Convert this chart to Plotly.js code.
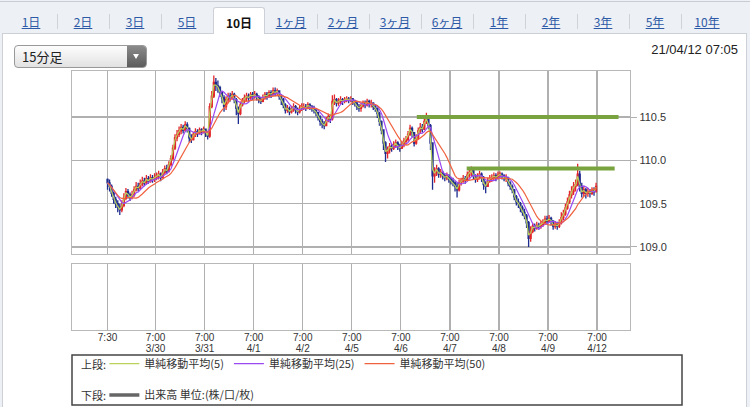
<!DOCTYPE html>
<html>
<head>
<meta charset="utf-8">
<script src="https://cdn.plot.ly/plotly-3.0.1.min.js"></script>
<style>
  html, body { margin:0; padding:0; }
  body { width:750px; height:407px; overflow:hidden; position:relative; background:#edf0f5; font-family:"Noto Sans CJK JP","Liberation Sans",sans-serif; }
  #topline { position:absolute; left:0; top:1px; width:750px; height:1px; background:#c9cdd3; }
  #panel { position:absolute; left:2px; top:33px; width:745px; height:390px; box-sizing:border-box; background:#fff; border:1px solid #cdd1d7; }
  .tab { position:absolute; top:7px; height:26px; width:52px; text-align:center; font-size:12px; line-height:30px; color:#2d5aa6; }
  .tab span { text-decoration:underline; }
  .tab.sel { background:#fff; border:1px solid #cdd1d7; border-bottom:none; box-sizing:border-box; height:27px; line-height:29px; border-radius:3px 3px 0 0; color:#111; font-weight:bold; }
  .tab.sel span { text-decoration:none; }
  .sep { position:absolute; top:14px; width:1px; height:15px; background:#cfd3d8; }
  #dd { position:absolute; left:14px; top:45px; width:133px; height:23px; box-sizing:border-box; border:1px solid #999; border-radius:4px; background:linear-gradient(#fdfdfd,#e2e2e2); overflow:hidden; }
  #ddtext { position:absolute; left:7px; top:0; line-height:21px; font-size:13px; color:#222; }
  #ddbtn { position:absolute; right:0; top:0; width:19px; height:21px; background:linear-gradient(#8a8a8a,#5c5c5c); }
  #ddbtn:after { content:""; position:absolute; left:6px; top:8px; border-left:3.5px solid transparent; border-right:3.5px solid transparent; border-top:5px solid #fff; }
  #stamp { position:absolute; right:12px; top:42px; font-family:"Liberation Sans",Arial,sans-serif; font-size:13px; line-height:16px; color:#222; }
  #chart { position:absolute; left:0; top:0; width:750px; height:407px; }
</style>
</head>
<body>
<div id="topline"></div>
<div id="panel"></div>
<div id="tabs"></div>
<div id="dd"><div id="ddtext"></div><div id="ddbtn"></div></div>
<div id="stamp"></div>
<div id="chart"></div>
<script>
// ---- page UI text ----
const tabLabels = ['1日','2日','3日','5日','10日','1ヶ月','2ヶ月','3ヶ月','6ヶ月','1年','2年','3年','5年','10年'];
const selectedTab = 4;
const barTypeLabel = '15分足';
const timestampLabel = '21/04/12 07:05';

// ---- chart data (USD/JPY, hourly samples) ----
// hours counted in trading time from 3/29 7:00 (weekend skipped)
const firstBarHour = 0.5;
const firstOpen = 109.78;
const closes = [
 109.74,109.70,109.62,109.55,109.50,109.46,109.43,109.48,109.56,109.64,109.60,109.57,109.60,109.66,109.70,109.68,109.73,109.76,109.74,109.79,109.76,109.80,109.78,109.80,
 109.82,109.84,109.80,109.86,109.90,109.88,109.95,110.02,110.14,110.26,110.30,110.34,110.38,110.35,110.41,110.37,110.26,110.24,110.30,110.33,110.31,110.35,110.33,110.36,
 110.32,110.28,110.62,110.74,110.90,110.86,110.84,110.78,110.72,110.62,110.70,110.74,110.72,110.76,110.70,110.60,110.54,110.64,110.68,110.72,110.74,110.72,110.76,110.74,
 110.76,110.73,110.70,110.68,110.72,110.76,110.74,110.78,110.76,110.80,110.78,110.80,110.74,110.70,110.64,110.58,110.60,110.56,110.59,110.62,110.58,110.56,110.60,110.62,
 110.62,110.60,110.64,110.62,110.60,110.58,110.55,110.50,110.45,110.42,110.40,110.46,110.50,110.48,110.68,110.70,110.66,110.68,110.70,110.68,110.70,110.71,110.70,110.71,
 110.68,110.66,110.62,110.60,110.63,110.66,110.64,110.68,110.65,110.66,110.62,110.60,110.54,110.45,110.35,110.20,110.08,110.12,110.16,110.14,110.18,110.20,110.16,110.14,
 110.18,110.22,110.24,110.30,110.37,110.32,110.20,110.26,110.34,110.38,110.36,110.45,110.48,110.40,110.20,109.82,109.86,109.90,109.84,109.86,109.82,109.80,109.82,109.78,
 109.76,109.74,109.70,109.66,109.74,109.76,109.79,109.78,109.83,109.86,109.88,109.82,109.78,109.80,109.84,109.80,109.72,109.70,109.76,109.79,109.80,109.82,109.80,109.83,
 109.84,109.82,109.79,109.80,109.74,109.70,109.66,109.58,109.52,109.50,109.45,109.40,109.36,109.28,109.10,109.18,109.24,109.22,109.25,109.24,109.26,109.28,109.32,109.30,
 109.33,109.30,109.24,109.26,109.24,109.28,109.34,109.38,109.45,109.52,109.60,109.64,109.70,109.72,109.84,109.70,109.62,109.66,109.62,109.64,109.62,109.65,109.64,109.70
];
const highs = [
 109.79,109.78,109.72,109.64,109.58,109.54,109.50,109.54,109.62,109.68,109.67,109.63,109.65,109.70,109.75,109.74,109.78,109.81,109.80,109.83,109.82,109.84,109.83,109.85,
 109.86,109.88,109.86,109.90,109.94,109.95,109.99,110.06,110.18,110.30,110.35,110.39,110.42,110.41,110.45,110.44,110.38,110.30,110.33,110.37,110.36,110.38,110.37,110.39,
 110.36,110.34,110.66,110.80,110.98,110.95,110.92,110.86,110.80,110.75,110.74,110.78,110.78,110.80,110.78,110.72,110.62,110.68,110.72,110.76,110.78,110.77,110.79,110.79,
 110.80,110.78,110.75,110.73,110.76,110.79,110.79,110.81,110.81,110.84,110.84,110.83,110.81,110.76,110.72,110.66,110.64,110.62,110.63,110.66,110.64,110.61,110.64,110.66,
 110.66,110.65,110.67,110.66,110.64,110.63,110.60,110.56,110.52,110.48,110.45,110.50,110.54,110.53,110.75,110.76,110.72,110.72,110.74,110.72,110.73,110.74,110.73,110.74,
 110.72,110.70,110.68,110.65,110.66,110.69,110.69,110.71,110.70,110.70,110.67,110.65,110.61,110.56,110.46,110.36,110.22,110.16,110.20,110.19,110.22,110.24,110.22,110.19,
 110.22,110.26,110.28,110.34,110.41,110.39,110.32,110.30,110.38,110.43,110.42,110.50,110.55,110.50,110.42,110.20,109.92,109.95,109.92,109.90,109.88,109.85,109.86,109.84,
 109.81,109.80,109.76,109.74,109.78,109.80,109.83,109.82,109.87,109.90,109.93,109.90,109.84,109.85,109.88,109.86,109.82,109.76,109.80,109.83,109.84,109.86,109.85,109.87,
 109.87,109.86,109.84,109.84,109.81,109.76,109.72,109.67,109.60,109.56,109.52,109.48,109.44,109.38,109.30,109.24,109.28,109.27,109.29,109.28,109.30,109.32,109.36,109.36,
 109.37,109.35,109.31,109.30,109.29,109.32,109.40,109.43,109.50,109.57,109.65,109.70,109.75,109.78,109.96,109.88,109.74,109.70,109.68,109.68,109.67,109.69,109.69,109.74
];
const lows = [
 109.66,109.64,109.58,109.50,109.45,109.40,109.37,109.40,109.46,109.54,109.56,109.53,109.55,109.58,109.64,109.64,109.66,109.70,109.70,109.72,109.73,109.74,109.74,109.75,
 109.77,109.78,109.76,109.79,109.84,109.84,109.86,109.93,110.00,110.12,110.22,110.27,110.30,110.31,110.33,110.32,110.21,110.20,110.23,110.27,110.27,110.30,110.29,110.31,
 110.27,110.24,110.26,110.60,110.72,110.80,110.78,110.73,110.66,110.56,110.58,110.66,110.68,110.70,110.66,110.52,110.42,110.52,110.62,110.66,110.68,110.68,110.70,110.70,
 110.71,110.69,110.66,110.65,110.67,110.70,110.70,110.72,110.72,110.74,110.74,110.74,110.70,110.64,110.60,110.54,110.55,110.52,110.54,110.56,110.54,110.52,110.54,110.57,
 110.58,110.57,110.59,110.58,110.56,110.54,110.51,110.46,110.40,110.37,110.36,110.40,110.44,110.43,110.46,110.64,110.62,110.63,110.65,110.64,110.66,110.67,110.66,110.67,
 110.64,110.62,110.58,110.56,110.56,110.61,110.60,110.62,110.61,110.61,110.58,110.56,110.49,110.40,110.30,110.12,109.98,110.02,110.08,110.10,110.12,110.15,110.12,110.10,
 110.13,110.15,110.18,110.22,110.28,110.27,110.16,110.18,110.24,110.31,110.32,110.35,110.42,110.36,110.12,109.66,109.74,109.82,109.80,109.80,109.78,109.76,109.77,109.74,
 109.72,109.70,109.64,109.57,109.64,109.71,109.74,109.73,109.77,109.80,109.82,109.78,109.74,109.75,109.78,109.75,109.66,109.62,109.70,109.74,109.75,109.77,109.76,109.78,
 109.79,109.78,109.76,109.75,109.70,109.66,109.62,109.54,109.48,109.45,109.40,109.36,109.32,109.22,109.00,109.06,109.16,109.18,109.20,109.20,109.21,109.23,109.26,109.26,
 109.28,109.25,109.20,109.21,109.20,109.22,109.26,109.31,109.36,109.43,109.50,109.56,109.60,109.64,109.70,109.64,109.57,109.58,109.56,109.58,109.57,109.60,109.59,109.63
];
const volumes = [null]; // FX: no volume reported, lower panel stays empty

// moving averages (periods in 15-min bars)
const maPeriods = [5, 25, 50];
const maNames = ['単純移動平均(5)', '単純移動平均(25)', '単純移動平均(50)'];
const barMinutes = 15, sampleMinutes = 60;

// horizontal price lines (green)
const levelPrices = [110.50, 109.905];
const levelFrom = [151.8, 176.2];
const levelTo = [250.5, 248.6];

// axis ticks
const gridHours = [0.5, 24, 48, 72, 96, 120, 144, 168, 192, 216, 240];
const timeLabels = ['7:30','7:00','7:00','7:00','7:00','7:00','7:00','7:00','7:00','7:00','7:00'];
const dateLabels = ['','3/30','3/31','4/1','4/2','4/5','4/6','4/7','4/8','4/9','4/12'];
const priceTicks = [109.0, 109.5, 110.0, 110.5];
const priceTickLabels = ['109.0','109.5','110.0','110.5'];
const upperLabel = '上段:', lowerLabel = '下段:';
const volumeName = '出来高 単位:(株/口/枚)';

// ---- page UI ----
const tabsEl = document.getElementById('tabs');
tabLabels.forEach((t, i) => {
  const d = document.createElement('div');
  d.className = 'tab' + (i === selectedTab ? ' sel' : '');
  d.style.left = (5 + 52 * i) + 'px';
  d.innerHTML = '<span>' + t + '</span>';
  if (i > 0 && i !== selectedTab && i !== selectedTab + 1) {
    const s = document.createElement('div');
    s.className = 'sep';
    s.style.left = (5 + 52 * i) + 'px';
    tabsEl.appendChild(s);
  }
  tabsEl.appendChild(d);
});
document.getElementById('ddtext').textContent = barTypeLabel;
document.getElementById('stamp').textContent = timestampLabel;

// ---- chart ----
const barHours = closes.map((_, k) => firstBarHour + k);
const opens = closes.map((c, k) => k === 0 ? firstOpen : closes[k - 1]);

function sma(arr, span) {
  return arr.map((_, i) => {
    let s = 0, w = 0;
    for (let j = 0; j < Math.ceil(span); j++) {
      if (i - j < 0) break;
      const wt = Math.min(1, span - j);
      s += arr[i - j] * wt; w += wt;
    }
    return s / w;
  });
}

const maColors = ['#b9d25c', '#9a48f2', '#f0623e'];
const traces = [];
levelPrices.forEach((p, i) => traces.push({
  type: 'scatter', mode: 'lines', x: [levelFrom[i], levelTo[i]], y: [p, p],
  line: { color: '#78a33f', width: 4 }, showlegend: false, hoverinfo: 'skip', xaxis: 'x', yaxis: 'y'
}));
traces.push({
  type: 'candlestick', x: barHours, open: opens, high: highs, low: lows, close: closes,
  increasing: { line: { color: '#e3262b', width: 1.3 }, fillcolor: '#e3262b' },
  decreasing: { line: { color: '#1e2c8e', width: 1.3 }, fillcolor: '#1e2c8e' },
  whiskerwidth: 0, showlegend: false, xaxis: 'x', yaxis: 'y'
});
maPeriods.forEach((n, i) => traces.push({
  type: 'scatter', mode: 'lines', x: barHours, y: sma(closes, n * barMinutes / sampleMinutes),
  name: maNames[i], line: { color: maColors[i], width: 1.2 }, legend: 'legend', xaxis: 'x', yaxis: 'y'
}));
traces.push({
  type: 'scatter', mode: 'lines', x: [barHours[0]], y: volumes, name: volumeName,
  line: { color: '#666', width: 3.5 }, legend: 'legend2', xaxis: 'x2', yaxis: 'y2'
});
traces.push({ type: 'scatter', mode: 'lines', x: [barHours[0]], y: volumes, showlegend: false, xaxis: 'x3', yaxis: 'y2' });

const xRange = [-16.88, 256.1];
const gridC = '#b0b0b0', frameC = '#b8b8b8';
const legendX = 0.058;
const layout = {
  width: 750, height: 407,
  margin: { l: 72, r: 120, t: 71, b: 77, autoexpand: false },
  paper_bgcolor: 'rgba(0,0,0,0)', plot_bgcolor: '#ffffff',
  font: { family: 'Liberation Sans, Arial, sans-serif', size: 11, color: '#333' },
  showlegend: true,
  xaxis: { domain: [0, 1], anchor: 'y', range: xRange, tickvals: gridHours, showticklabels: false,
    showgrid: true, gridcolor: gridC, gridwidth: 1.2, zeroline: false, showline: true, mirror: true,
    linecolor: frameC, linewidth: 1.2, ticks: '', rangeslider: { visible: false }, fixedrange: true },
  yaxis: { domain: [0.2934, 1], anchor: 'x', range: [108.919, 111.031], side: 'right',
    tickvals: priceTicks, ticktext: priceTickLabels, ticks: 'outside', ticklen: 6, tickcolor: gridC,
    showgrid: true, gridcolor: gridC, gridwidth: 1.3, zeroline: false, showline: true, mirror: true,
    linecolor: frameC, linewidth: 1.2, tickfont: { size: 11, color: '#333' } },
  xaxis2: { domain: [0, 1], anchor: 'y2', range: xRange, tickvals: gridHours, ticktext: timeLabels,
    showgrid: true, gridcolor: gridC, gridwidth: 1.2, zeroline: false, showline: true, mirror: true,
    linecolor: frameC, linewidth: 1.2, ticks: '', ticklabelstandoff: -2, tickfont: { size: 10, color: '#333' } },
  xaxis3: { overlaying: 'x2', anchor: 'y2', side: 'bottom', range: xRange, tickvals: gridHours, ticktext: dateLabels,
    showgrid: false, zeroline: false, showline: false, ticks: '', ticklabelstandoff: 11,
    tickfont: { size: 10, color: '#333' } },
  yaxis2: { domain: [0, 0.2548], anchor: 'x2', range: [0, 1], showticklabels: false, showgrid: false,
    zeroline: false, showline: true, mirror: true, linecolor: frameC, linewidth: 1.2, ticks: '' },
  legend: { orientation: 'h', x: legendX, xanchor: 'left', y: -0.13, yanchor: 'middle',
    font: { family: 'Noto Sans CJK JP', size: 11, color: '#333' }, bgcolor: 'rgba(0,0,0,0)', borderwidth: 0 },
  legend2: { orientation: 'h', x: legendX, xanchor: 'left', y: -0.251, yanchor: 'middle',
    font: { family: 'Noto Sans CJK JP', size: 11, color: '#333' }, bgcolor: 'rgba(0,0,0,0)', borderwidth: 0 },
  annotations: [
    { text: upperLabel, xref: 'paper', yref: 'paper', x: 0.013, y: -0.13, xanchor: 'left', yanchor: 'middle',
      showarrow: false, font: { family: 'Noto Sans CJK JP', size: 11, color: '#333' } },
    { text: lowerLabel, xref: 'paper', yref: 'paper', x: 0.013, y: -0.251, xanchor: 'left', yanchor: 'middle',
      showarrow: false, font: { family: 'Noto Sans CJK JP', size: 11, color: '#333' } }
  ],
  shapes: [
    { type: 'rect', xref: 'paper', yref: 'paper', x0: 0, x1: 1.0932, y0: -0.2896, y1: -0.0965,
      line: { color: '#444', width: 1.5 }, fillcolor: 'rgba(0,0,0,0)' }
  ]
};

Plotly.newPlot('chart', traces, layout, { staticPlot: true, displayModeBar: false });
</script>
</body>
</html>
